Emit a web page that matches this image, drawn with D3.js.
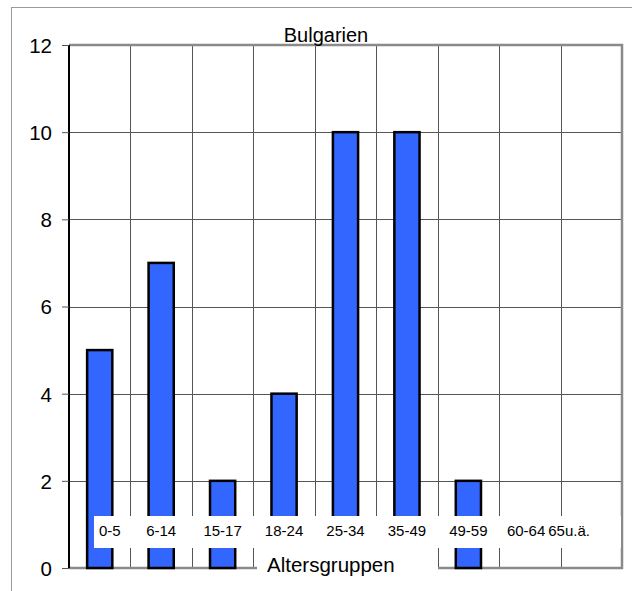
<!DOCTYPE html>
<html><head><meta charset="utf-8">
<script src="https://cdn.jsdelivr.net/npm/d3@7"></script>
<style>body{margin:0;background:#fff}svg{display:block}text{font-family:"Liberation Sans",Arial,sans-serif;fill:#000}</style>
</head><body>
<svg id="c" width="632" height="591"></svg>
<script>
const categories = ["0-5","6-14","15-17","18-24","25-34","35-49","49-59","60-64","65u.ä."];
const values = [5,7,2,4,10,10,2,0,0];
const yTicks = [0,2,4,6,8,10,12];
const title = "Bulgarien";
const xTitle = "Altersgruppen";

const svg = d3.select("#c");
const L = 69, R = 622, T = 45, B = 568;
const x = d3.scaleBand().domain(categories).range([L, R]);
const y = d3.scaleLinear().domain([0, 12]).range([B, T]);

// outer frame
svg.append("rect").attr("x", 11.5).attr("y", 7.5).attr("width", 700).attr("height", 700)
  .attr("fill", "none").attr("stroke", "#9a9a9a").attr("stroke-width", 1);

// horizontal gridlines
svg.append("g").selectAll("line").data(yTicks.filter(d => d > 0 && d < 12)).join("line")
  .attr("x1", L).attr("x2", R).attr("y1", d => Math.round(y(d)) + 0.5).attr("y2", d => Math.round(y(d)) + 0.5)
  .attr("stroke", "#555").attr("stroke-width", 1);
// vertical gridlines at band boundaries
svg.append("g").selectAll("line").data(categories.slice(1)).join("line")
  .attr("x1", d => Math.round(x(d)) + 0.5).attr("x2", d => Math.round(x(d)) + 0.5)
  .attr("y1", T).attr("y2", B)
  .attr("stroke", "#555").attr("stroke-width", 1);

// plot border (top, right, bottom)
svg.append("path").attr("d", `M${L},${T} H${R} V${B} H${L}`)
  .attr("fill", "none").attr("stroke", "#8a8a8a").attr("stroke-width", 2.5);

// bars
const bw = x.bandwidth() * 0.41;
svg.append("g").selectAll("rect").data(categories.map((c, i) => ({c, v: values[i]})).filter(d => d.v > 0)).join("rect")
  .attr("x", d => x(d.c) + x.bandwidth() / 2 - bw / 2)
  .attr("y", d => y(d.v))
  .attr("width", bw)
  .attr("height", d => y(0) - y(d.v))
  .attr("fill", "#3366ff").attr("stroke", "#000").attr("stroke-width", 2.5);

// y axis
const yAxis = d3.axisLeft(y).tickValues(yTicks).tickSize(7).tickPadding(10);
const ga = svg.append("g").attr("transform", `translate(${L},0)`).call(yAxis);
ga.select(".domain").attr("stroke", "#000").attr("stroke-width", 2).attr("d", `M0,${T}V${B}`);
ga.selectAll(".tick line").attr("stroke", "#555");
ga.selectAll(".tick text").attr("font-size", 20.5).attr("font-family", "Liberation Sans, Arial, sans-serif").attr("fill", "#000").attr("dy", "0.36em");

// category label box
const boxL = 94, boxT = 516, boxB = 548;
svg.append("rect").attr("x", boxL).attr("y", boxT).attr("width", R - 1 - boxL).attr("height", boxB - boxT).attr("fill", "#fff");
const lab = svg.append("g").selectAll("text").data(categories).join("text")
  .attr("font-size", 15).attr("y", 536).attr("text-anchor", "middle")
  .text(d => d);
// simple layout: keep inside box, avoid overlap from the right
const widths = [];
lab.each(function () { widths.push(this.getComputedTextLength()); });
const centers = categories.map(c => x(c) + x.bandwidth() / 2);
const minL = boxL + 5, maxR = 590;
for (let i = 0; i < centers.length; i++) {
  if (centers[i] - widths[i] / 2 < minL) centers[i] = minL + widths[i] / 2;
}
for (let i = centers.length - 1; i >= 0; i--) {
  const limit = i === centers.length - 1 ? maxR : centers[i + 1] - widths[i + 1] / 2 - 3;
  if (centers[i] + widths[i] / 2 > limit) centers[i] = limit - widths[i] / 2;
}
lab.attr("x", (d, i) => centers[i]);

// x title with white box
svg.append("rect").attr("x", 257).attr("y", boxB).attr("width", 181).attr("height", 32).attr("fill", "#fff");
svg.append("text").attr("x", 267).attr("y", 572).attr("font-size", 20.5).text(xTitle);

// chart title
svg.append("text").attr("x", 326).attr("y", 41.5).attr("text-anchor", "middle").attr("font-size", 20).text(title);
</script>
</body></html>
